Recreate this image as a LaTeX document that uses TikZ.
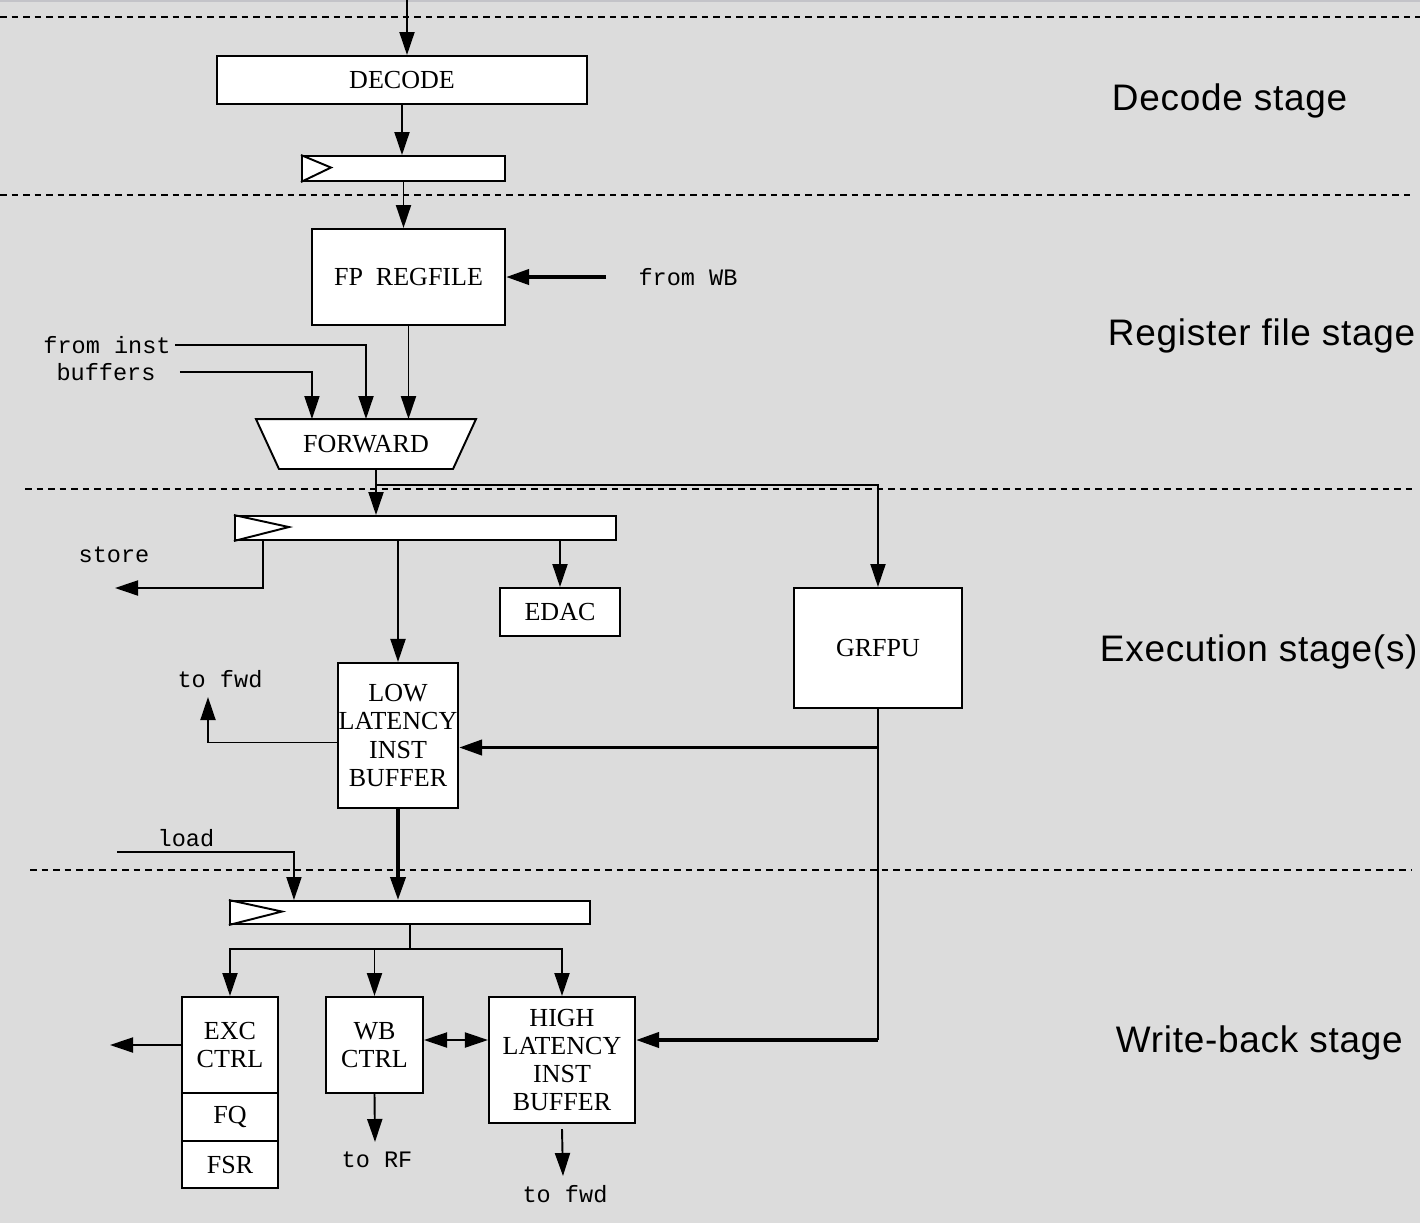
\documentclass[tikz,border=0pt]{standalone}
\usepackage{fontspec}
\setmainfont{Liberation Serif}
\newfontfamily\monofont{Liberation Mono}
\newfontfamily\stagefont[LetterSpace=2]{Liberation Sans}
\usetikzlibrary{arrows.meta, positioning}
\definecolor{bggray}{RGB}{220,220,220}
\definecolor{edgegray}{RGB}{195,195,200}

\begin{document}
\begin{tikzpicture}[x=0.01cm, y=-0.01cm, >={Triangle[length=0.23cm,width=0.15cm]},
    line width=0.55pt, font=\fontsize{7.4}{8}\selectfont]
  \tikzstyle{blk}=[draw, fill=white, inner sep=0pt, align=center]
  \tikzstyle{pipereg}=[draw, fill=white, inner sep=0pt]
  \tikzstyle{sig}=[font=\monofont\fontsize{6.7}{8}\selectfont, inner sep=1pt]
  \tikzstyle{stage}=[font=\stagefont\fontsize{10.5}{12}\selectfont, anchor=base west, inner sep=0pt]
  \tikzstyle{sep}=[dash pattern=on 0.065cm off 0.05cm, line width=0.3pt]
  \tikzstyle{thk}=[line width=1.1pt]

  \path[use as bounding box, fill=bggray] (0,0) rectangle (1420,1223);
  \fill[edgegray] (0,0) rectangle (1420,2);
  \draw[sep] (0,17) -- (1420,17);
  \draw[sep] (0,195) -- (1412,195);
  \draw[sep] (25,489) -- (1412,489);
  \draw[sep] (30,870) -- (1412,870);

  \node[blk, minimum width=3.7cm, minimum height=0.48cm] (dec) at (402,80) {DECODE};
  \node[pipereg, minimum width=2.03cm, minimum height=0.25cm] (reg1) at (403.5,168.5) {};
  \node[blk, minimum width=1.93cm, minimum height=0.96cm] (rf) at (408.5,277) {FP~~REGFILE};
  \node[sig] (wbsrc) at (688,277) {from WB};
  \node[sig] (finst) at (107,345) {from inst};
  \node[sig] (fbuf) at (106,372) {buffers};
  \node[minimum width=2.18cm, minimum height=0.48cm, inner sep=0pt] (fwd) at (366,444) {};
  \draw[fill=white] (fwd.north west) -- (fwd.north east) -- ([xshift=-0.23cm]fwd.south east)
    -- ([xshift=0.23cm]fwd.south west) -- cycle;
  \node (fwdtxt) at (fwd) {FORWARD};

  \node[pipereg, minimum width=3.81cm, minimum height=0.24cm] (reg2) at (425.5,528) {};
  \node[sig] (storelbl) at (114,555) {store};
  \node[blk, minimum width=1.2cm, minimum height=0.48cm] (edac) at (560,612) {EDAC};
  \node[blk, minimum width=1.68cm, minimum height=1.2cm] (grfpu) at (878,648) {GRFPU};
  \node[blk, minimum width=1.2cm, minimum height=1.45cm] (llib) at (398,735.5) {LOW\\LATENCY\\INST\\BUFFER};
  \node[sig] (tofwda) at (220,679) {to fwd};

  \node[sig] (ldlbl) at (186,838) {load};
  \node[pipereg, minimum width=3.6cm, minimum height=0.23cm] (reg3) at (410,912.5) {};
  \node[blk, minimum width=0.96cm, minimum height=0.96cm] (exc) at (230,1045) {EXC\\CTRL};
  \node[blk, minimum width=0.96cm, minimum height=0.48cm, below=-0.55pt of exc] (fq) {FQ};
  \node[blk, minimum width=0.96cm, minimum height=0.47cm, below=-0.55pt of fq] (fsr) {FSR};
  \node[blk, minimum width=0.97cm, minimum height=0.96cm] (wb) at (374.5,1045) {WB\\CTRL};
  \node[blk, minimum width=1.46cm, minimum height=1.26cm] (hlib) at (562,1060) {HIGH\\LATENCY\\INST\\BUFFER};
  \node[sig] (torflbl) at (377,1160) {to RF};
  \node[sig] (tofwdlbl) at (565,1194) {to fwd};

  \node[stage] (stdec) at (1111,110) {Decode stage};
  \node[stage] (streg) at (1107,345) {Register file stage};
  \node[stage] (stexe) at (1099,661) {Execution stage(s)};
  \node[stage] (stwb) at (1115,1052) {Write-back stage};

  \draw (reg1.north west) -- ++(30,12.5) -- (reg1.south west);
  \draw (reg2.north west) -- ++(55,12) -- (reg2.south west);
  \draw (reg3.north west) -- ++(53,11.5) -- (reg3.south west);

  \coordinate (instin) at (407,0);
  \coordinate (fwdout) at ([xshift=0.1cm]fwd.south);
  \coordinate (tap) at ([yshift=-0.16cm]fwdout);
  \coordinate (storeout) at (115,588);
  \coordinate (fwdup) at (208,697);
  \coordinate (llin) at ([yshift=-0.12cm]llib.east);
  \coordinate (hlin) at ([yshift=0.2cm]hlib.east);
  \coordinate (ldin) at (117,852);
  \coordinate (excout) at (110,1045);
  \coordinate (wbhl) at ([yshift=0.05cm]wb.east);
  \coordinate (torf) at (375,1142);
  \coordinate (tofwdb) at (563,1176);

  \draw[->] (instin) -- (instin |- dec.north);
  \draw[->] (dec.south) -- (dec.south |- reg1.north);
  \draw[->] (reg1.south) -- (reg1.south |- rf.north);
  \draw[->, thk] ([xshift=-0.28cm]wbsrc.west) -- (rf.east);
  \draw[->] (rf.south) -- (rf.south |- fwd.north);
  \draw[->] (finst.east) -| (fwd.north);
  \draw[->] ([xshift=0.2cm]fbuf.east) -| ([xshift=-0.54cm]fwd.north);
  \draw[->] (fwdout) -- (fwdout |- reg2.north);
  \draw[->] (tap) -| (grfpu.north);
  \draw[->] ([xshift=0.29cm]reg2.south west) |- (storeout);
  \draw[->] (edac.north |- reg2.south) -- (edac.north);
  \draw[->] (llib.north |- reg2.south) -- (llib.north);
  \draw[->] ([yshift=-0.07cm]llib.west) -| (fwdup);
  \draw (grfpu.south) -- (grfpu.south |- hlin);
  \draw[->, thk] (grfpu.south |- llin) -- (llin);
  \draw[->, thk] (grfpu.south |- hlin) -- (hlin);
  \draw[->, thk] (llib.south) -- (llib.south |- reg3.north);
  \draw[->] (ldin) -| ([xshift=0.65cm]reg3.north west);
  \draw (reg3.south) -- ++(0,24) coordinate (split);
  \draw[->] (split) -| (exc.north);
  \draw[->] (split) -| (hlib.north);
  \draw[->] (wb.north |- split) -- (wb.north);
  \draw[->] (exc.west) -- (excout);
  \draw[<->] (wbhl) -- (wbhl -| hlib.west);
  \draw[->] (wb.south) -- (torf);
  \draw[->] ([yshift=-0.05cm]hlib.south) -- (tofwdb);
\end{tikzpicture}
\end{document}
